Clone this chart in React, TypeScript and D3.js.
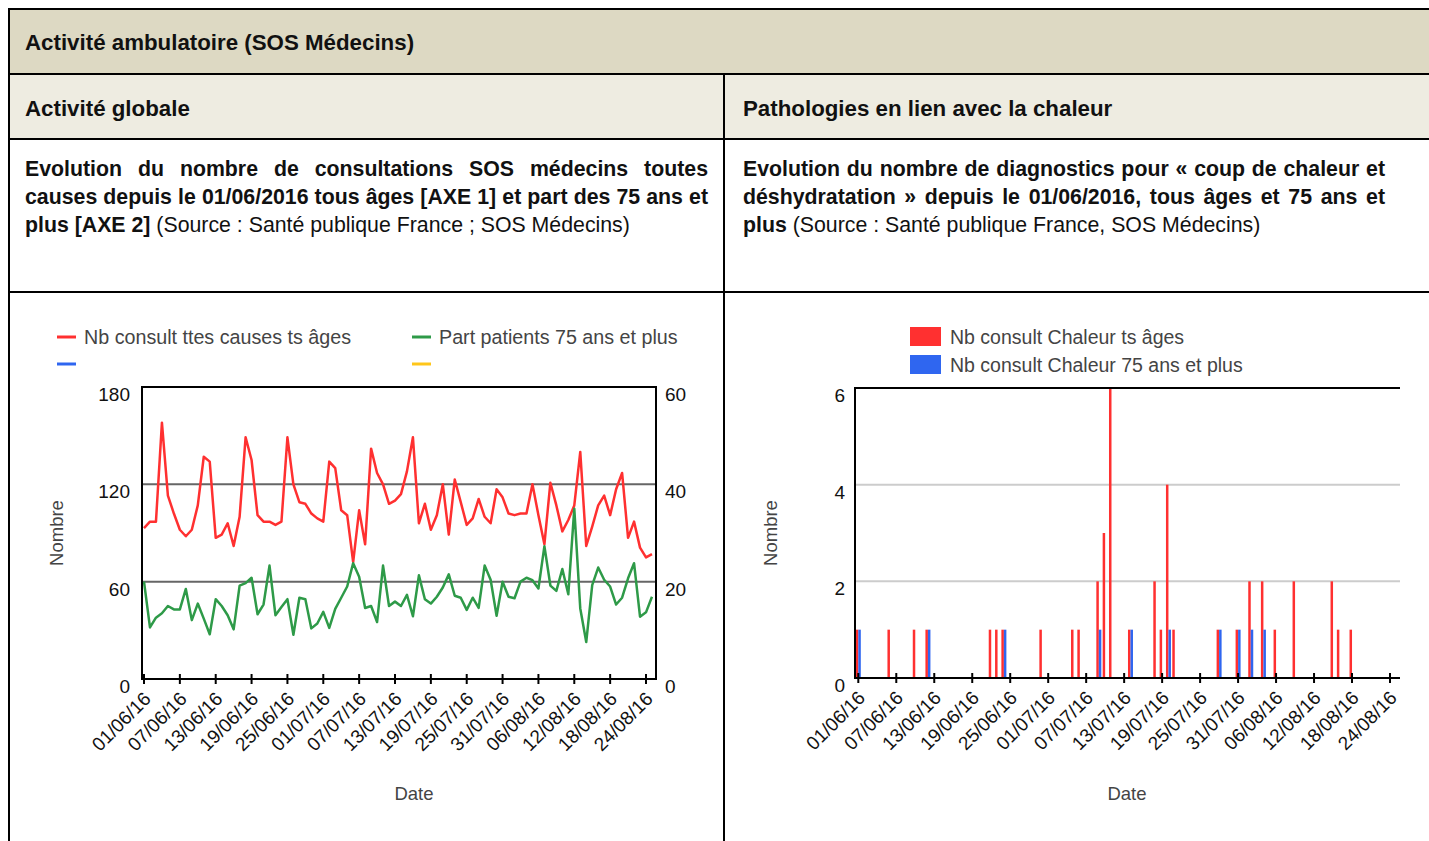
import React, { useEffect, useRef } from "react";
import * as d3 from "d3";

// left chart : SOS Médecins consultations, every day from 01/06/16 to 25/08/16
const consultAll = [
  93, 97, 97, 158, 113, 102, 92, 88, 92, 107, 137, 134, 87, 89, 96, 82, 100, 149, 135, 101,
  97, 97, 95, 97, 149, 120, 109, 108, 102, 99, 97, 134, 130, 104, 101, 72, 104, 83, 142, 127,
  120, 108, 110, 114, 128, 149, 96, 108, 92, 101, 120, 89, 123, 109, 95, 99, 111, 100, 96, 117,
  112, 102, 101, 102, 102, 120, 101, 83, 121, 107, 91, 98, 107, 140, 82, 94, 107, 113, 101, 117,
  127, 87, 97, 81, 75, 77,
];
const share75 = [
  20, 10.6, 12.6, 13.5, 15, 14.3, 14.3, 18.5, 12.1, 15.5, 12.4, 9.2, 16.4, 15, 13.1, 10.2, 19.2, 19.7, 20.8, 13.3,
  15.3, 23.3, 13.1, 14.8, 16.4, 9.1, 16.7, 16.4, 10.4, 11.4, 13.8, 10.5, 14.4, 16.7, 19, 23.8, 21, 14.6, 15, 11.7,
  23.3, 15, 15.9, 15, 17.3, 12.9, 21.3, 16.4, 15.5, 16.9, 18.8, 21.5, 17.1, 16.7, 14.2, 16.7, 14.6, 23.3, 20.4, 13,
  20, 16.9, 16.6, 20, 20.8, 20.3, 18.6, 27.3, 19.2, 18.1, 22.6, 17.4, 35, 14.5, 7.6, 19.3, 22.9, 20.4, 19, 15.3,
  16.7, 20.7, 23.8, 12.8, 13.7, 16.9,
];

// right chart : heat related diagnostics, same days
const heatAll = [
  1, 0, 0, 0, 0, 1, 0, 0, 0, 1, 0, 1, 0, 0, 0, 0, 0, 0, 0, 0,
  0, 1, 1, 1, 0, 0, 0, 0, 0, 1, 0, 0, 0, 0, 1, 1, 0, 0, 2, 3,
  6, 0, 0, 1, 0, 0, 0, 2, 1, 4, 1, 0, 0, 0, 0, 0, 0, 1, 0, 0,
  1, 0, 2, 0, 2, 0, 1, 0, 0, 2, 0, 0, 0, 0, 0, 2, 1, 0, 1, 0,
  0, 0, 0, 0, 0, 0,
];
const heat75 = [
  1, 0, 0, 0, 0, 0, 0, 0, 0, 0, 0, 1, 0, 0, 0, 0, 0, 0, 0, 0,
  0, 0, 0, 1, 0, 0, 0, 0, 0, 0, 0, 0, 0, 0, 0, 0, 0, 0, 1, 0,
  0, 0, 0, 1, 0, 0, 0, 0, 0, 1, 0, 0, 0, 0, 0, 0, 0, 1, 0, 0,
  1, 0, 1, 0, 1, 0, 0, 0, 0, 0, 0, 0, 0, 0, 0, 0, 0, 0, 0, 0,
  0, 0, 0, 0, 0, 0,
];

const tickLabels = [
  "01/06/16", "07/06/16", "13/06/16", "19/06/16", "25/06/16", "01/07/16", "07/07/16", "13/07/16",
  "19/07/16", "25/07/16", "31/07/16", "06/08/16", "12/08/16", "18/08/16", "24/08/16",
];
const leftTicks = [0, 60, 120, 180];
const rightTicks = [0, 20, 40, 60];
const heatTicks = [0, 2, 4, 6];
const lineLegend = ["Nb consult ttes causes ts âges", "Part patients 75 ans et plus"];
const barLegend = ["Nb consult Chaleur ts âges", "Nb consult Chaleur 75 ans et plus"];

const RED = "#ff3030";
const GREEN = "#2e9a48";
const BLUE = "#2f66f0";
const YELLOW = "#ffc61a";
const NARROW = "'Liberation Sans Narrow', 'Arial Narrow', 'Liberation Sans', sans-serif";
const SANS = "'Liberation Sans', Arial, sans-serif";

const App = () => {
  const ref = useRef<SVGSVGElement>(null);

  useEffect(() => {
    const svg = d3.select(ref.current);
    svg.selectAll("*").remove();

    const parse = d3.timeParse("%d/%m/%y");
    const days = d3.timeDay.range(parse("01/06/16")!, parse("26/08/16")!);
    const ticks = tickLabels.map((t) => parse(t)!);

    // ---- table ----
    svg.append("rect").attr("x", 9).attr("y", 9).attr("width", 1420).attr("height", 65).attr("fill", "#ddd9c3");
    svg.append("rect").attr("x", 9).attr("y", 74).attr("width", 1420).attr("height", 65).attr("fill", "#eeece1");
    [9, 74, 139, 292].forEach((y) => {
      svg.append("line").attr("x1", 8).attr("x2", 1429).attr("y1", y).attr("y2", y)
        .attr("stroke", "#000").attr("stroke-width", 2);
    });
    svg.append("line").attr("x1", 9).attr("x2", 9).attr("y1", 8).attr("y2", 841).attr("stroke", "#000").attr("stroke-width", 2);
    svg.append("line").attr("x1", 724).attr("x2", 724).attr("y1", 74).attr("y2", 841).attr("stroke", "#000").attr("stroke-width", 2);

    const head = (x: number, y: number, s: string) =>
      svg.append("text").attr("x", x).attr("y", y).attr("font-family", NARROW).attr("font-weight", "bold")
        .attr("font-size", 22.3).attr("fill", "#111").text(s);
    head(25, 50, "Activité ambulatoire (SOS Médecins)");
    head(25, 116, "Activité globale");
    head(743, 116, "Pathologies en lien avec la chaleur");

    // paragraph lines, the first two justified
    const para = (x: number, width: number, lines: string[], bold: string, rest: string) => {
      lines.forEach((s, i) => {
        const t = svg.append("text").attr("x", x).attr("y", 176 + i * 28).attr("font-family", NARROW)
          .attr("font-weight", "bold").attr("font-size", 21.3).attr("fill", "#111").text(s);
        const node = t.node() as SVGTextElement;
        const len = node.getComputedTextLength();
        const spaces = (s.match(/ /g) || []).length;
        t.style("word-spacing", `${(width - len) / spaces}px`);
      });
      const last = svg.append("text").attr("x", x).attr("y", 176 + lines.length * 28)
        .attr("font-family", NARROW).attr("font-size", 21.3).attr("fill", "#111");
      last.append("tspan").attr("font-weight", "bold").text(bold);
      last.append("tspan").text(rest);
    };
    para(25, 683, [
      "Evolution du nombre de consultations SOS médecins toutes",
      "causes depuis le 01/06/2016 tous âges [AXE 1] et part des 75 ans et",
    ], "plus [AXE 2]", " (Source : Santé publique France ; SOS Médecins)");
    para(743, 642, [
      "Evolution du nombre de diagnostics pour « coup de chaleur et",
      "déshydratation » depuis le 01/06/2016, tous âges et 75 ans et",
    ], "plus", " (Source : Santé publique France, SOS Médecins)");

    // shared pieces of both charts
    const xTicks = (x: d3.ScaleTime<number, number>, y0: number) => {
      const g = svg.append("g");
      ticks.forEach((d, i) => {
        g.append("line").attr("x1", x(d)).attr("x2", x(d)).attr("y1", y0 - 5).attr("y2", y0 + 5)
          .attr("stroke", "#000").attr("stroke-width", 2);
        g.append("text").attr("transform", `translate(${x(d) + 8},${y0 + 21}) rotate(-45)`)
          .attr("text-anchor", "end").attr("font-family", SANS).attr("font-size", 19)
          .attr("fill", "#111").text(tickLabels[i]);
      });
    };
    const axisTitles = (cx: number, nx: number) => {
      svg.append("text").attr("x", cx).attr("y", 800).attr("text-anchor", "middle")
        .attr("font-family", SANS).attr("font-size", 18.5).attr("fill", "#444").text("Date");
      svg.append("text").attr("transform", `translate(${nx + 6},533) rotate(-90)`).attr("text-anchor", "middle")
        .attr("font-family", SANS).attr("font-size", 18.5).attr("fill", "#444").text("Nombre");
    };

    // ---- left chart ----
    const xL = d3.scaleTime().domain([ticks[0], ticks[ticks.length - 1]]).range([144, 646]);
    const yL = d3.scaleLinear().domain([0, 180]).range([679, 387]);
    const yR = d3.scaleLinear().domain([0, 60]).range([679, 387]);

    leftTicks.slice(1, 3).forEach((v) => {
      svg.append("line").attr("x1", 142).attr("x2", 656).attr("y1", yL(v)).attr("y2", yL(v))
        .attr("stroke", "#666").attr("stroke-width", 2);
    });
    leftTicks.forEach((v) => {
      svg.append("text").attr("x", 130).attr("y", yL(v) + 14).attr("text-anchor", "end")
        .attr("font-family", SANS).attr("font-size", 19).attr("fill", "#111").text(v);
    });
    rightTicks.forEach((v) => {
      svg.append("text").attr("x", 665).attr("y", yR(v) + 14)
        .attr("font-family", SANS).attr("font-size", 19).attr("fill", "#111").text(v);
    });

    const lineAll = d3.line<number>().x((_, i) => xL(days[i])).y((v) => yL(v));
    const line75 = d3.line<number>().x((_, i) => xL(days[i])).y((v) => yR(v));
    svg.append("path").attr("d", lineAll(consultAll)).attr("fill", "none").attr("stroke", RED)
      .attr("stroke-width", 2.5).attr("stroke-linejoin", "round");
    svg.append("path").attr("d", line75(share75)).attr("fill", "none").attr("stroke", GREEN)
      .attr("stroke-width", 2.5).attr("stroke-linejoin", "round");

    svg.append("rect").attr("x", 142).attr("y", 387).attr("width", 514).attr("height", 292)
      .attr("fill", "none").attr("stroke", "#000").attr("stroke-width", 2);
    xTicks(xL, 679);
    axisTitles(414, 57);

    // legend of the lines
    const lg = [
      { x: 57, y: 337, c: RED, s: lineLegend[0] },
      { x: 412, y: 337, c: GREEN, s: lineLegend[1] },
      { x: 57, y: 364, c: BLUE, s: "" },
      { x: 412, y: 364, c: YELLOW, s: "" },
    ];
    lg.forEach((d) => {
      svg.append("line").attr("x1", d.x).attr("x2", d.x + 19).attr("y1", d.y).attr("y2", d.y)
        .attr("stroke", d.c).attr("stroke-width", 3);
      svg.append("text").attr("x", d.x + 27).attr("y", d.y + 7).attr("font-family", SANS)
        .attr("font-size", 19.7).attr("fill", "#444").text(d.s);
    });

    // ---- right chart ----
    const xB = d3.scaleTime().domain([ticks[0], ticks[ticks.length - 1]]).range([858.3, 1390]);
    const yB = d3.scaleLinear().domain([0, 6]).range([678, 388]);

    heatTicks.slice(1, 3).forEach((v) => {
      svg.append("line").attr("x1", 855).attr("x2", 1400).attr("y1", yB(v)).attr("y2", yB(v))
        .attr("stroke", "#cccccc").attr("stroke-width", 2);
    });
    heatTicks.forEach((v) => {
      svg.append("text").attr("x", 845).attr("y", yB(v) + 14).attr("text-anchor", "end")
        .attr("font-family", SANS).attr("font-size", 19).attr("fill", "#111").text(v);
    });

    const bw = 2.5;
    svg.append("g").selectAll("rect").data(heatAll).join("rect")
      .attr("x", (_, i) => xB(days[i]) - bw).attr("width", bw)
      .attr("y", (v) => yB(v)).attr("height", (v) => yB(0) - yB(v)).attr("fill", RED);
    svg.append("g").selectAll("rect").data(heat75).join("rect")
      .attr("x", (_, i) => xB(days[i])).attr("width", bw)
      .attr("y", (v) => yB(v)).attr("height", (v) => yB(0) - yB(v)).attr("fill", BLUE);

    svg.append("line").attr("x1", 855).attr("x2", 1400).attr("y1", 388).attr("y2", 388).attr("stroke", "#000").attr("stroke-width", 2);
    svg.append("line").attr("x1", 855).attr("x2", 1400).attr("y1", 678).attr("y2", 678).attr("stroke", "#000").attr("stroke-width", 2);
    svg.append("line").attr("x1", 855).attr("x2", 855).attr("y1", 387).attr("y2", 679).attr("stroke", "#000").attr("stroke-width", 2);
    xTicks(xB, 678);
    axisTitles(1127, 771);

    barLegend.forEach((s, i) => {
      svg.append("rect").attr("x", 910).attr("y", 327 + i * 28).attr("width", 31).attr("height", 19)
        .attr("fill", i === 0 ? RED : BLUE);
      svg.append("text").attr("x", 950).attr("y", 344 + i * 28).attr("font-family", SANS)
        .attr("font-size", 19.5).attr("fill", "#444").text(s);
    });
  }, []);

  return (
    <div style={{ position: "fixed", left: 0, top: 0, width: 1429, height: 841, overflow: "hidden", background: "#fff" }}>
      <svg ref={ref} width={1429} height={841} style={{ display: "block" }} />
    </div>
  );
};

export default App;
